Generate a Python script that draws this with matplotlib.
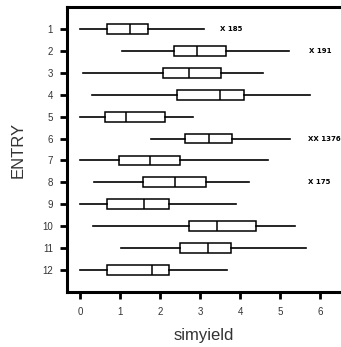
import matplotlib.pyplot as plt

plt.rcParams['font.family'] = ['Liberation Sans', 'DejaVu Sans']

# one box per entry
entries = ['1', '2', '3', '4', '5', '6', '7', '8', '9', '10', '11', '12']
whislo = [0.00, 1.04, 0.08, 0.31, 0.00, 1.78, 0.00, 0.36, 0.00, 0.33, 1.03, 0.00]
q1 = [0.68, 2.35, 2.08, 2.43, 0.63, 2.62, 0.98, 1.58, 0.67, 2.72, 2.51, 0.68]
med = [1.25, 2.93, 2.73, 3.49, 1.14, 3.22, 1.76, 2.38, 1.59, 3.42, 3.19, 1.80]
q3 = [1.71, 3.66, 3.53, 4.11, 2.13, 3.81, 2.51, 3.16, 2.22, 4.41, 3.78, 2.22]
whishi = [3.10, 5.22, 4.58, 5.74, 2.82, 5.25, 4.71, 4.23, 3.90, 5.37, 5.65, 3.67]

# outlier labels: (entry index, x position, text)
note_rows = [1, 2, 6, 8]
note_x = [3.5, 5.73, 5.7, 5.7]
note_text = ['X 185', 'X 191', 'XX 1376', 'X 175']

xticks = [0, 1, 2, 3, 4, 5, 6]

stats = []
for i in range(len(entries)):
    stats.append({'whislo': whislo[i], 'q1': q1[i], 'med': med[i],
                  'q3': q3[i], 'whishi': whishi[i], 'fliers': []})

fig = plt.figure(figsize=(3.41, 3.47), dpi=100)
ax = fig.add_axes([67 / 341, 1 - 292 / 347, (341 - 67) / 341, (292 - 7) / 347])

positions = list(range(1, len(entries) + 1))
ax.bxp(stats, positions=positions, vert=False, widths=0.45, showcaps=False,
       showfliers=False, patch_artist=True,
       boxprops=dict(facecolor='white', edgecolor='black', linewidth=1.1),
       whiskerprops=dict(color='black', linewidth=1.2),
       medianprops=dict(color='black', linewidth=1.1))

for r, x, t in zip(note_rows, note_x, note_text):
    ax.text(x, r, t, fontsize=5, fontweight='bold', va='center', ha='left',
            family='DejaVu Sans', clip_on=False)

ax.set_xlim(-0.325, 6.525)
ax.set_ylim(13, 0)
ax.set_yticks(positions)
ax.set_yticklabels(entries)
ax.set_xticks(xticks)

for side in ['left', 'bottom', 'top']:
    ax.spines[side].set_linewidth(2.2)
ax.spines['right'].set_visible(False)

ax.tick_params(axis='both', width=2, length=5, labelsize=7, colors='black',
               labelcolor='#333333')
ax.tick_params(axis='x', pad=6)
ax.tick_params(axis='y', pad=5)
ax.set_xlabel('simyield', fontsize=12, color='#333333', labelpad=8)
ax.set_ylabel('ENTRY', fontsize=12, color='#333333', labelpad=12)

fig.savefig('out.png', dpi=100)
